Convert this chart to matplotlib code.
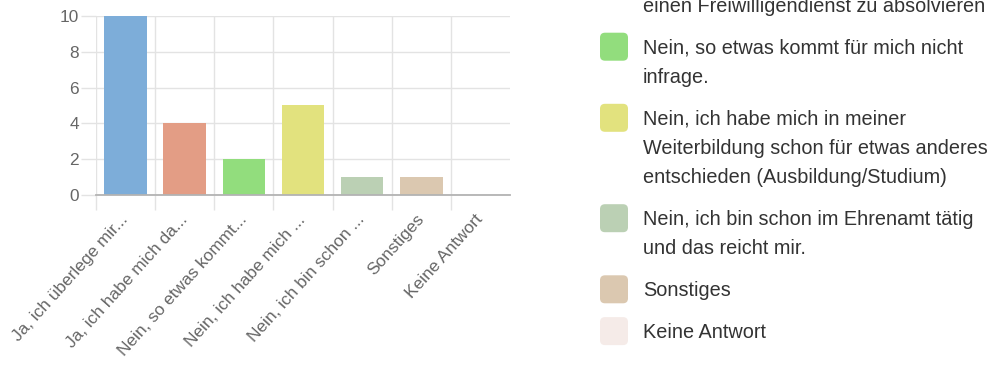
import matplotlib
matplotlib.use("Agg")
import matplotlib.pyplot as plt
from matplotlib.patches import FancyBboxPatch

plt.rcParams['font.family'] = ['Liberation Sans', 'DejaVu Sans']

# ---- data ----
categories = ["Ja, ich überlege mir...", "Ja, ich habe mich da...", "Nein, so etwas kommt...",
              "Nein, ich habe mich ...", "Nein, ich bin schon ...", "Sonstiges", "Keine Antwort"]
values = [10, 4, 2, 5, 1, 1, 0]
colors = ["#7DADD9", "#E39D85", "#92DD7D", "#E2E27E", "#BBD0B4", "#DBC8B0", "#F5EBE8"]
yticks = [0, 2, 4, 6, 8, 10]

# legend (visible part of the legend in the screenshot)
legend_cut_line = "einen Freiwilligendienst zu absolvieren"
legend_labels = [
    "Nein, so etwas kommt für mich nicht\ninfrage.",
    "Nein, ich habe mich in meiner\nWeiterbildung schon für etwas anderes\nentschieden (Ausbildung/Studium)",
    "Nein, ich bin schon im Ehrenamt tätig\nund das reicht mir.",
    "Sonstiges",
    "Keine Antwort",
]
legend_colors = colors[2:]

W, H = 992, 365
fig = plt.figure(figsize=(W / 100, H / 100), dpi=100)
PX = 0.72  # points per pixel

# ---- bar chart axes ----
left, right, top, bottom = 96, 510, 16, 195
ax = fig.add_axes([left / W, (H - bottom) / H, (right - left) / W, (bottom - top) / H])
x = list(range(len(categories)))
ax.bar(x, values, width=0.72, color=colors, zorder=2)
ax.set_xlim(-0.5, len(categories) - 0.5)
ax.set_ylim(0, 10)

grid_c = "#e3e3e3"
zero_c = "#b3b3b3"
for s in ["top", "right", "left"]:
    ax.spines[s].set_visible(False)
ax.spines["bottom"].set_color(zero_c)
ax.spines["bottom"].set_linewidth(1.3)
ax.spines["bottom"].set_zorder(3)

ax.set_yticks(yticks)
ax.set_yticklabels([str(v) for v in yticks])
ax.tick_params(axis="y", length=15 * PX, width=1, color=grid_c, pad=1.5,
               labelsize=12.4, labelcolor="#666666")
ax.yaxis.get_major_ticks()[0].tick1line.set_color(zero_c)
ax.grid(axis="y", color=grid_c, linewidth=1, zorder=0)

ax.set_xticks(x)
ax.set_xticklabels(categories, rotation=48, ha="right", va="center",
                   rotation_mode="anchor")
ax.tick_params(axis="x", which="major", length=0, pad=22 * PX,
               labelsize=12.4, labelcolor="#666666")
ax.set_xticks([i - 0.5 for i in range(len(categories))], minor=True)
ax.tick_params(axis="x", which="minor", length=15 * PX, width=1, color=grid_c)
ax.grid(axis="x", which="minor", color=grid_c, linewidth=1, zorder=0)
ax.set_axisbelow(True)

# ---- legend overlay (pixel coordinates) ----
ov = fig.add_axes([0, 0, 1, 1])
ov.set_xlim(0, W)
ov.set_ylim(H, 0)
ov.axis("off")
ov.patch.set_alpha(0)

fs = 14.3
line_h = 29.3
gap = 12.5
text_x = 643
sq_x, sq = 600, 28
tc = "#333333"
base_off = 7

ov.text(text_x, 5 + base_off, legend_cut_line, fontsize=fs, color=tc, va="baseline", ha="left")
yc = 46.7
for lab, col in zip(legend_labels, legend_colors):
    ov.add_patch(FancyBboxPatch((sq_x, yc - sq / 2), sq, sq,
                                boxstyle="round,pad=0,rounding_size=5",
                                facecolor=col, edgecolor="none"))
    lines = lab.split("\n")
    for k, ln in enumerate(lines):
        ov.text(text_x, yc + k * line_h + base_off, ln, fontsize=fs, color=tc,
                va="baseline", ha="left")
    yc += len(lines) * line_h + gap

fig.savefig("out.png", dpi=100)
